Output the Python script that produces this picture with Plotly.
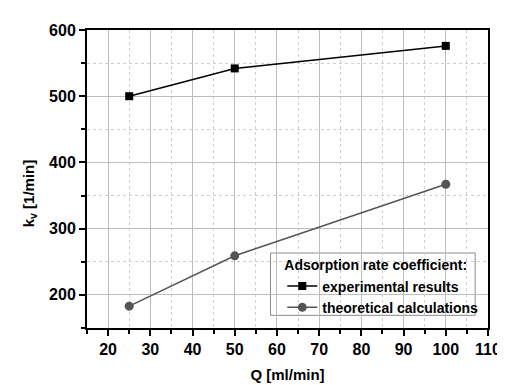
import plotly.graph_objects as go

Q = [25, 50, 100]
exp_vals = [500, 542, 576]
theo_vals = [183, 259, 367]
x_ticks = [20, 30, 40, 50, 60, 70, 80, 90, 100, 110]
y_ticks = [200, 300, 400, 500, 600]

FONT = "Liberation Sans, Arial, sans-serif"

fig = go.Figure()
fig.add_trace(go.Scatter(x=Q, y=exp_vals, mode="lines+markers", name="experimental results",
                         line=dict(color="black", width=1.5),
                         marker=dict(symbol="square", size=8, color="black")))
fig.add_trace(go.Scatter(x=Q, y=theo_vals, mode="lines+markers", name="theoretical calculations",
                         line=dict(color="#555555", width=1.5),
                         marker=dict(symbol="circle", size=9, color="#555555")))

axis_common = dict(
    showline=True, linecolor="black", linewidth=2, mirror=True,
    ticks="outside", ticklen=6, tickwidth=2, tickcolor="black",
    showgrid=True, gridcolor="#bdbdbd", gridwidth=1,
    zeroline=False,
    tickfont=dict(family=FONT, size=16, color="black", weight="bold"),
)

fig.update_xaxes(range=[15, 110], tickvals=x_ticks,
                 minor=dict(dtick=5, tick0=15, ticks="outside", ticklen=4, tickwidth=2, tickcolor="black",
                            showgrid=True, gridcolor="#cfcfcf", griddash="dot"),
                 title=dict(text="Q [ml/min]", font=dict(family=FONT, size=15, color="black", weight="bold"), standoff=12),
                 **axis_common)
fig.update_yaxes(range=[150, 600], tickvals=y_ticks,
                 minor=dict(dtick=50, tick0=150, ticks="outside", ticklen=4, tickwidth=2, tickcolor="black",
                            showgrid=True, gridcolor="#cfcfcf", griddash="dot"),
                 **axis_common)

fig.add_annotation(text="k<sub>v</sub> [1/min]", textangle=-90, xref="paper", yref="paper",
                   x=-0.143, y=0.451, xanchor="center", yanchor="middle", showarrow=False,
                   font=dict(family=FONT, size=15, color="black", weight="bold"))

# legend frame
fig.add_shape(type="rect", xref="paper", yref="paper", x0=0.4576, x1=0.968, y0=0.0425, y1=0.2516,
              line=dict(color="#8a8a8a", width=1), fillcolor="white", layer="between")

fig.update_layout(
    width=505, height=385,
    margin=dict(l=79, r=13, t=22, b=57),
    paper_bgcolor="white", plot_bgcolor="white",
    font=dict(family=FONT, color="black"),
    showlegend=True,
    legend=dict(
        title=dict(text="Adsorption rate coefficient:", font=dict(family=FONT, size=14, color="black", weight="bold")),
        font=dict(family=FONT, size=14, color="black", weight="bold"),
        x=0.487, y=0.254, xanchor="left", yanchor="top",
        bgcolor="rgba(0,0,0,0)", borderwidth=0,
        tracegroupgap=0, itemwidth=30,
    ),
)

fig.write_html("out.html")
